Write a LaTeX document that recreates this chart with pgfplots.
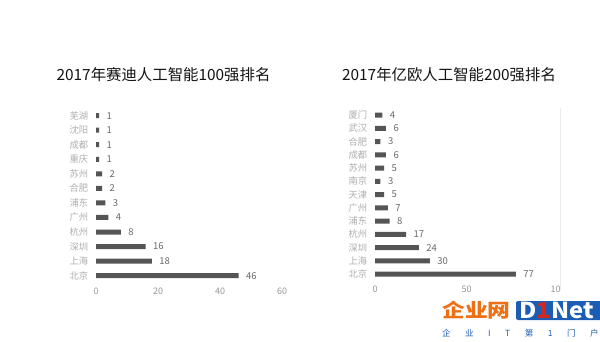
\documentclass[border=0pt]{standalone}
\usepackage{pgfplots}
\pgfplotsset{compat=1.18}
\usepackage{fontspec}
\setmainfont{Noto Sans CJK SC}
\definecolor{barc}{RGB}{85,85,85}
\definecolor{catc}{RGB}{175,175,175}
\definecolor{tickc}{RGB}{150,150,150}
\definecolor{valc}{RGB}{105,105,105}
\definecolor{logoorange}{RGB}{238,112,22}
\definecolor{logoblue}{RGB}{28,92,178}
\definecolor{logored}{RGB}{210,40,30}
\pgfplotsset{
  mybars/.style={
    xbar, bar width=5pt, scale only axis,
    axis line style={draw=none}, major tick style={draw=none},
    yticklabel style={text=catc, font=\fontsize{9.3}{9.5}\selectfont},
    xticklabel style={text=tickc, font=\fontsize{9}{9}\selectfont},
    /pgf/number format/assume math mode=true,
    nodes near coords,
    every node near coord/.append style={anchor=west, xshift=4pt, text=valc, font=\fontsize{9.5}{10}\selectfont},
    clip=false,
  }
}
\begin{document}
\begin{tikzpicture}
\path[use as bounding box, fill=white] (0pt,0pt) rectangle (600pt,341pt);
\node[font=\fontsize{15.4}{17}\selectfont, text=black!92] at (163.5pt,266pt) {2017年赛迪人工智能100强排名};
\node[font=\fontsize{15.4}{17}\selectfont, text=black!92] at (449pt,266pt) {2017年亿欧人工智能200强排名};
\begin{axis}[mybars, at={(96pt,56.6pt)}, anchor=south west,
  width=186pt, height=177.5pt, xmin=0, xmax=60, ymin=-0.6, ymax=11.6,
  xtick={0,20,40,60},
  ytick={0,...,11},
  yticklabels={北京,上海,深圳,杭州,广州,浦东,合肥,苏州,重庆,成都,沈阳,芜湖}]
\addplot[fill=barc, draw=none] coordinates {(46,0) (18,1) (16,2) (8,3) (4,4) (3,5) (2,6) (2,7) (1,8) (1,9) (1,10) (1,11)};
\end{axis}
\begin{scope}
\clip (0pt,0pt) rectangle (560pt,341pt);
\begin{axis}[mybars, at={(375pt,59pt)}, anchor=south west,
  width=183pt, height=174.9pt, xmin=0, xmax=100, ymin=-0.6, ymax=12.6,
  xtick={0,50,100},
  ytick={0,...,12},
  yticklabels={北京,上海,深圳,杭州,浦东,广州,天津,南京,苏州,成都,合肥,武汉,厦门}]
\addplot[fill=barc, draw=none] coordinates {(77,0) (30,1) (24,2) (17,3) (8,4) (7,5) (5,6) (3,7) (5,8) (6,9) (3,10) (6,11) (4,12)};
\end{axis}
\end{scope}
\draw[black!8, line width=0.6pt] (560pt,51pt) -- (560pt,233pt);
% logo
\node[anchor=west, inner sep=0pt, text=logoorange, font=\fontsize{19}{19}\selectfont\bfseries, xscale=1.2] at (442pt,30.5pt) {企业网};
\fill[logoblue, rounded corners=2pt] (516pt,21pt) rectangle (602pt,40pt);
\node[anchor=west, inner sep=0pt, text=white, font=\fontsize{22}{22}\selectfont\bfseries, xscale=1.08] at (519pt,30.5pt) {D\textcolor{logored}{1}Net};
\node[anchor=west, inner sep=0pt, text=logoblue, font=\fontsize{8.5}{9}\selectfont] at (442pt,8pt) {企\hspace{14.5pt}业\hspace{14.5pt}I\hspace{14.5pt}T\hspace{14.5pt}第\hspace{14.5pt}1\hspace{14.5pt}门\hspace{14.5pt}户};
\end{tikzpicture}
\end{document}
